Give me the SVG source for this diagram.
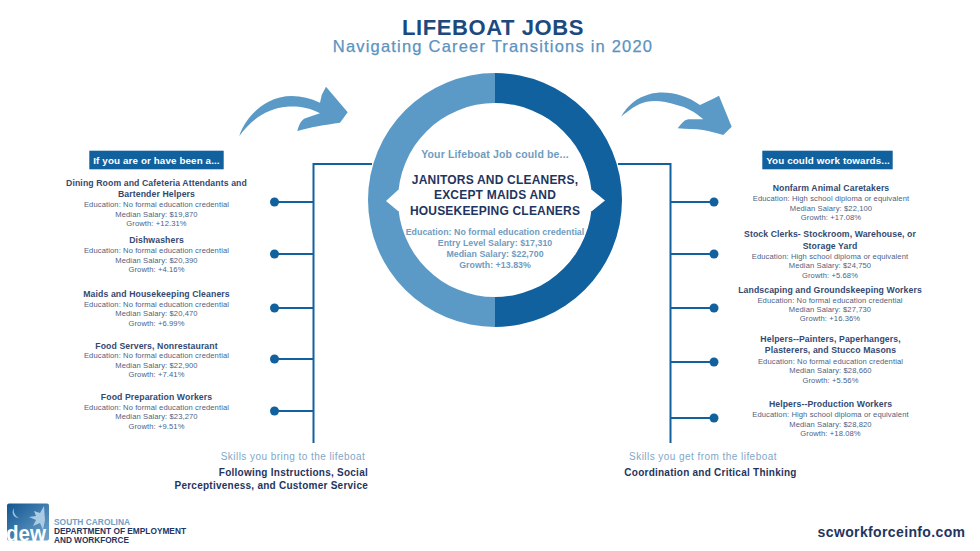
<svg xmlns="http://www.w3.org/2000/svg" width="980" height="551" viewBox="0 0 980 551">
<style>
text{font-family:"Liberation Sans",Arial,sans-serif;text-anchor:middle}
.t{font-size:8.7px;font-weight:700;fill:#34496f;letter-spacing:.1px}
.b{font-size:7.6px;fill:#4d5f83;letter-spacing:.1px}
.c{font-size:8.8px;font-weight:700;fill:#6f9cc0;letter-spacing:.04px}
.y{font-size:10.5px;font-weight:700;fill:#6f9cc0;letter-spacing:.15px}
.j{font-size:12px;font-weight:700;fill:#1f3560;letter-spacing:.2px}
.s{font-size:10px;fill:#7fa8c9;letter-spacing:.45px}
.k{font-size:10px;font-weight:700;fill:#1f3560;letter-spacing:.25px}
.p{font-size:9.8px;font-weight:700;fill:#fff;letter-spacing:.12px}
.l{stroke:#12619f;stroke-width:2;fill:none}
.d{fill:#12619f}
.o{font-size:9px;font-weight:700;text-anchor:start}
.e{text-anchor:end}
</style>
<defs><linearGradient id="g" x1="0" y1="0" x2="1" y2="1"><stop offset="0" stop-color="#12558f"/><stop offset="1" stop-color="#6fa6cf"/></linearGradient></defs>
<rect width="980" height="551" fill="#fff"/>
<g id="title">
<text x="493" y="35" font-size="22" font-weight="700" fill="#1c4a7f" letter-spacing=".6">LIFEBOAT JOBS</text>
<text x="493" y="51.500" font-size="16.500" font-weight="400" fill="#5b93bf" stroke="#5b93bf" stroke-width=".25" letter-spacing="1.2">Navigating Career Transitions in 2020</text>
</g>
<g id="connectors">
<path class="l" d="M372 164H313.5V443M313.5 202H275M313.5 254H275M313.5 308H275M313.5 359H275M313.5 411H275"/>
<path class="l" d="M618 164H670.5V443M670.5 202H714M670.5 254H714M670.5 308H714M670.5 362H714M670.5 418H714"/>
<path fill="#5b9ac6" d="M239.300 136C243 124 253 110 268 102C285 93 303 95 320 102.700L321.700 95L326 86.700L347.700 112.300L340 122.700C325 125 310 127 297.300 131C299 124 302 119 306 118L320 113.300C308 107 297 106 286.700 106.700C270 108 253 117 239.300 136Z"/>
<path fill="#5b9ac6" d="M621 116.700C628 105 636 98 650 94C665 90 685 94 700 105L712.700 99L719 95.700L731.700 126.700L723.300 135C716 133 710 131 703 130C695 129 687 129 677.700 128.300C681 124 684 120 688.300 119.300L703.300 119.300C695 112 686 107 676.700 105C665 101 655 100 646.700 101.700C637 104 629 110 621 116.700Z"/>
</g>
<g id="hub">
<path fill="#5b9ac6" d="M495 73A127 127 0 0 0 495 327V297A97 97 0 0 1 495 103Z"/>
<path fill="#12619f" d="M495 73A127 127 0 0 1 495 327V297A97 97 0 0 0 495 103Z"/>
<path fill="#fff" d="M386 201L398 190H592L605 200.500L592 211H398Z"/>
<text class="y" x="495" y="158.300">Your Lifeboat Job could be...</text>
<text class="j" x="495" y="184">JANITORS AND CLEANERS,</text>
<text class="j" x="495" y="199.300">EXCEPT MAIDS AND</text>
<text class="j" x="495" y="214.700">HOUSEKEEPING CLEANERS</text>
<text class="c" x="495" y="234.700">Education: No formal education credential</text>
<text class="c" x="495" y="246">Entry Level Salary: $17,310</text>
<text class="c" x="495" y="257.300">Median Salary: $22,700</text>
<text class="c" x="495" y="268.300">Growth: +13.83%</text>
</g>
<g id="from-header"><rect x="89.300" y="150.700" width="134.400" height="18.600" fill="#12619f"/><text class="p" x="156.500" y="164">If you are or have been a...</text></g>
<g id="to-header"><rect x="762.300" y="150.700" width="130.400" height="18.600" fill="#12619f"/><text class="p" x="828" y="163.500">You could work towards...</text></g>
<g id="from-1"><circle class="d" cx="274.500" cy="202" r="4.500"/><text class="t" x="156.500" y="186">Dining Room and Cafeteria Attendants and</text><text class="t" x="156.500" y="197">Bartender Helpers</text><text class="b" x="156.500" y="207">Education: No formal education credential</text><text class="b" x="156.500" y="216.500">Median Salary: $19,870</text><text class="b" x="156.500" y="226">Growth: +12.31%</text></g>
<g id="from-2"><circle class="d" cx="274.500" cy="254" r="4.500"/><text class="t" x="156.500" y="243">Dishwashers</text><text class="b" x="156.500" y="253">Education: No formal education credential</text><text class="b" x="156.500" y="262.700">Median Salary: $20,390</text><text class="b" x="156.500" y="272">Growth: +4.16%</text></g>
<g id="from-3"><circle class="d" cx="274.500" cy="308" r="4.500"/><text class="t" x="156.500" y="297">Maids and Housekeeping Cleaners</text><text class="b" x="156.500" y="307">Education: No formal education credential</text><text class="b" x="156.500" y="316.300">Median Salary: $20,470</text><text class="b" x="156.500" y="326">Growth: +6.99%</text></g>
<g id="from-4"><circle class="d" cx="274.500" cy="359" r="4.500"/><text class="t" x="156.500" y="348.500">Food Servers, Nonrestaurant</text><text class="b" x="156.500" y="358.300">Education: No formal education credential</text><text class="b" x="156.500" y="368">Median Salary: $22,900</text><text class="b" x="156.500" y="377">Growth: +7.41%</text></g>
<g id="from-5"><circle class="d" cx="274.500" cy="411" r="4.500"/><text class="t" x="156.500" y="400">Food Preparation Workers</text><text class="b" x="156.500" y="409.700">Education: No formal education credential</text><text class="b" x="156.500" y="419.300">Median Salary: $23,270</text><text class="b" x="156.500" y="428.700">Growth: +9.51%</text></g>
<g id="to-1"><circle class="d" cx="714" cy="202" r="4.500"/><text class="t" x="831" y="191">Nonfarm Animal Caretakers</text><text class="b" x="831" y="201.300">Education: High school diploma or equivalent</text><text class="b" x="831" y="210.700">Median Salary: $22,100</text><text class="b" x="831" y="220.300">Growth: +17.08%</text></g>
<g id="to-2"><circle class="d" cx="714" cy="254" r="4.500"/><text class="t" x="830" y="237.300">Stock Clerks- Stockroom, Warehouse, or</text><text class="t" x="830" y="248.700">Storage Yard</text><text class="b" x="830" y="258.700">Education: High school diploma or equivalent</text><text class="b" x="830" y="268.300">Median Salary: $24,750</text><text class="b" x="830" y="277.700">Growth: +5.68%</text></g>
<g id="to-3"><circle class="d" cx="714" cy="308" r="4.500"/><text class="t" x="830" y="292.700">Landscaping and Groundskeeping Workers</text><text class="b" x="830" y="302.700">Education: No formal education credential</text><text class="b" x="830" y="312">Median Salary: $27,730</text><text class="b" x="830" y="321.300">Growth: +16.36%</text></g>
<g id="to-4"><circle class="d" cx="714" cy="362" r="4.500"/><text class="t" x="830.500" y="342">Helpers--Painters, Paperhangers,</text><text class="t" x="830.500" y="353.300">Plasterers, and Stucco Masons</text><text class="b" x="830.500" y="364">Education: No formal education credential</text><text class="b" x="830.500" y="373.300">Median Salary: $28,660</text><text class="b" x="830.500" y="382.700">Growth: +5.56%</text></g>
<g id="to-5"><circle class="d" cx="714" cy="418" r="4.500"/><text class="t" x="830.500" y="406.700">Helpers--Production Workers</text><text class="b" x="830.500" y="417">Education: High school diploma or equivalent</text><text class="b" x="830.500" y="426.700">Median Salary: $28,820</text><text class="b" x="830.500" y="436">Growth: +18.08%</text></g>
<g id="skills-from"><text class="s" x="293" y="460">Skills you bring to the lifeboat</text><text class="k e" x="368" y="476">Following Instructions, Social</text><text class="k e" x="368" y="489.300">Perceptiveness, and Customer Service</text></g>
<g id="skills-to"><text class="s" x="703" y="459.500">Skills you get from the lifeboat</text><text class="k" x="710.500" y="476">Coordination and Critical Thinking</text></g>
<g id="site"><text x="891.500" y="537" font-size="14" font-weight="700" fill="#1f3560" letter-spacing=".37">scworkforceinfo.com</text></g>
<g id="logo">
<rect x="7" y="503.500" width="42" height="37" rx="2" fill="url(#g)"/>
<path fill="#9cc3e0" d="M14 508C11 512 13 518 19 518C15 516 13 512 14 508Z"/>
<path fill="#a9cbe4" d="M44 506L40 513L34 511L36 516L29 517L36 520L33 526L40 523L43 530L45 520Z"/>
<text x="26" y="541" font-size="22" font-weight="700" fill="#fff" textLength="40" lengthAdjust="spacingAndGlyphs">dew</text>
<text class="o" x="54" y="525" fill="#6ea0c8" textLength="76" lengthAdjust="spacingAndGlyphs">SOUTH CAROLINA</text>
<text class="o" x="54" y="534" fill="#23365f" textLength="132" lengthAdjust="spacingAndGlyphs">DEPARTMENT OF EMPLOYMENT</text>
<text class="o" x="54" y="543" fill="#23365f" textLength="75" lengthAdjust="spacingAndGlyphs">AND WORKFORCE</text>
</g>
</svg>
